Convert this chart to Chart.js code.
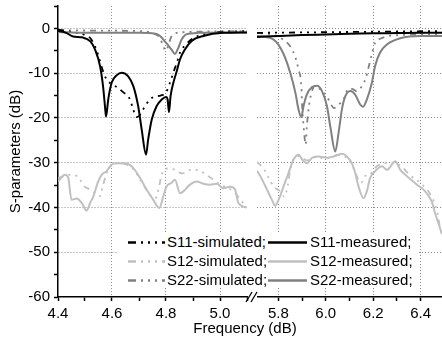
<!DOCTYPE html>
<html>
<head>
<meta charset="utf-8">
<script src="https://cdn.jsdelivr.net/npm/chart.js@4.4.1/dist/chart.umd.min.js"></script>
<style>
  html, body { margin: 0; padding: 0; background: #fff; }
  #wrap { position: relative; width: 442px; height: 347px; overflow: hidden;
          font-family: "Liberation Sans", Arial, sans-serif; color: #000; }
  canvas { position: absolute; top: 0; }
  #leftChart { left: 0; }
  #rightChart { left: 257px; }
  #legend { position: absolute; left: 118px; top: 233px; width: 301px; height: 55px; background: #fff; }
  .lbl { position: absolute; font-size: 15px; line-height: 18px; white-space: nowrap; }
  #xtitle { position: absolute; left: 145px; width: 200px; top: 319px; text-align: center;
            font-size: 15px; line-height: 18px; }
  svg { position: absolute; left: 0; top: 0; overflow: visible; }
</style>
</head>
<body>
<div id="wrap">
  <canvas id="leftChart" width="250" height="347"></canvas>
  <canvas id="rightChart" width="185" height="347"></canvas>
  <div id="legend"></div>
  <svg id="breakMark" width="442" height="347"></svg>
  <div id="xtitle">Frequency (dB)</div>
</div>
<script>
// axis ranges / ticks
const leftRange = [4.4, 5.1];
const rightRange = [5.71, 6.49];
const leftTicks = [4.4, 4.5, 4.6, 4.7, 4.8, 4.9, 5.0, 5.1];
const rightTicks = [5.8, 5.9, 6.0, 6.1, 6.2, 6.3, 6.4];
const dbTicks = [-60, -55, -50, -45, -40, -35, -30, -25, -20, -15, -10, -5, 0, 5];

// [frequency, dB], left part (4.4 - 5.1 GHz)
const s11MeasL = [[4.40,-0.5],[4.43,-1.0],[4.456,-1.8],[4.49,-2.0],[4.52,-2.9],[4.537,-4.7],[4.556,-8.5],[4.567,-13],[4.574,-17.4],[4.578,-19.7],[4.586,-15.9],[4.599,-12.1],[4.617,-10.5],[4.636,-9.9],[4.66,-10.7],[4.679,-12.9],[4.697,-17.4],[4.71,-22.6],[4.726,-28.2],[4.734,-24.8],[4.747,-20.4],[4.765,-17.4],[4.784,-15.9],[4.80,-15.3],[4.806,-15.9],[4.811,-18.7],[4.817,-15.1],[4.827,-12.2],[4.84,-9.5],[4.852,-6.9],[4.87,-4.7],[4.895,-2.8],[4.938,-1.7],[5.012,-1.0],[5.10,-0.9]];
const s11SimL = [[4.40,-0.3],[4.45,-0.8],[4.50,-1.5],[4.52,-2.2],[4.537,-4.0],[4.548,-5.8],[4.567,-9.6],[4.58,-11.4],[4.60,-12.5],[4.62,-13.2],[4.64,-14.2],[4.667,-15.9],[4.678,-18.0],[4.69,-19.8],[4.70,-19.6],[4.715,-18.1],[4.74,-15.9],[4.76,-15.2],[4.78,-15.0],[4.80,-14.3],[4.815,-12.1],[4.827,-9.9],[4.84,-7.7],[4.852,-5.4],[4.877,-3.4],[4.90,-2.2],[4.95,-1.2],[5.00,-0.8],[5.10,-0.6]];
const s12MeasL = [[4.40,-34.2],[4.426,-32.7],[4.438,-33.4],[4.45,-38.3],[4.469,-38],[4.488,-39],[4.506,-40.7],[4.519,-39],[4.531,-37.5],[4.549,-34.2],[4.562,-32.7],[4.58,-31.9],[4.599,-30.4],[4.617,-30.1],[4.654,-30.2],[4.679,-31.2],[4.704,-33.4],[4.728,-36],[4.753,-38.3],[4.775,-40.1],[4.79,-37.5],[4.802,-35.3],[4.821,-34.5],[4.833,-33.8],[4.852,-36.8],[4.864,-36.4],[4.889,-34.9],[4.914,-34.2],[4.938,-34.7],[4.963,-34.9],[4.988,-34.7],[5.012,-35.7],[5.037,-35.4],[5.056,-36],[5.068,-39],[5.10,-40]];
const s12SimL = [[4.40,-33.5],[4.44,-32.7],[4.47,-33],[4.50,-35.4],[4.52,-36],[4.537,-36.8],[4.555,-37.5],[4.565,-35.5],[4.58,-32.3],[4.60,-30.5],[4.62,-30.1],[4.65,-30.3],[4.68,-31.5],[4.70,-33.3],[4.72,-35.3],[4.74,-37.2],[4.76,-38],[4.772,-36],[4.784,-32.7],[4.80,-31.3],[4.83,-31.5],[4.86,-32.4],[4.89,-31.6],[4.92,-31.7],[4.94,-32.3],[4.975,-33.8],[5.00,-34.9],[5.05,-36.4],[5.07,-37.8],[5.10,-40]];
const s22MeasL = [[4.40,-0.8],[4.50,-1.0],[4.60,-1.0],[4.70,-1.0],[4.76,-1.2],[4.778,-1.7],[4.80,-3.2],[4.82,-4.7],[4.833,-5.7],[4.846,-4.3],[4.858,-2.5],[4.876,-1.3],[4.92,-1.0],[5.10,-0.9]];
const s22SimL = [[4.40,-0.4],[4.55,-0.5],[4.70,-0.6],[4.76,-1.3],[4.778,-2.2],[4.79,-4.0],[4.80,-5.0],[4.81,-3.5],[4.82,-1.8],[4.84,-1.0],[4.95,-0.7],[5.10,-0.6]];

// right part (5.7 - 6.5 GHz)
const s11MeasR = [[5.71,-1.9],[5.80,-1.7],[5.90,-1.5],[6.00,-1.35],[6.10,-1.2],[6.20,-1.1],[6.30,-1.05],[6.40,-1.0],[6.49,-1.0]];
const s11SimR = [[5.71,-1.0],[5.90,-0.9],[6.10,-0.8],[6.30,-0.7],[6.49,-0.6]];
const s12MeasR = [[5.71,-31.8],[5.724,-33],[5.752,-36],[5.773,-38.3],[5.787,-39.6],[5.801,-38.3],[5.822,-35.3],[5.843,-32.3],[5.864,-29.3],[5.886,-28.2],[5.90,-29.3],[5.921,-30.1],[5.942,-28.9],[5.97,-28.6],[6.005,-28.9],[6.033,-28.6],[6.068,-28],[6.089,-28.6],[6.11,-30.1],[6.124,-32.3],[6.138,-35.3],[6.159,-37.9],[6.173,-36.4],[6.187,-33.4],[6.208,-31.9],[6.237,-30.8],[6.258,-31.6],[6.293,-29.7],[6.314,-31.6],[6.342,-33],[6.384,-34.9],[6.419,-36.4],[6.447,-38.7],[6.461,-41.3],[6.475,-43.5],[6.49,-46]];
const s12SimR = [[5.71,-29.8],[5.74,-31.5],[5.76,-33.5],[5.78,-35.3],[5.81,-36.5],[5.825,-37.6],[5.84,-35],[5.85,-31.6],[5.864,-29.3],[5.89,-28.5],[5.92,-29.5],[5.95,-28.8],[6.00,-29],[6.05,-28.3],[6.09,-29],[6.115,-31],[6.137,-33.8],[6.15,-34.5],[6.165,-33],[6.187,-32.6],[6.215,-30.8],[6.28,-30],[6.31,-30.5],[6.36,-33],[6.40,-34.6],[6.44,-37],[6.47,-41],[6.48,-44],[6.49,-46.5]];
const s22MeasR = [[5.71,-1.7],[5.78,-2.5],[5.82,-5.5],[5.85,-9.9],[5.872,-14.4],[5.885,-18.1],[5.897,-19.8],[5.906,-17.4],[5.92,-14.8],[5.942,-13.1],[5.963,-12.8],[5.984,-14.0],[6.005,-17.4],[6.019,-21.9],[6.04,-27.5],[6.054,-23.3],[6.068,-18.1],[6.082,-15.2],[6.103,-14.0],[6.124,-14.8],[6.145,-17.0],[6.157,-17.5],[6.173,-15.9],[6.194,-12.2],[6.208,-8.4],[6.229,-5.4],[6.258,-3.6],[6.314,-2.2],[6.40,-1.7],[6.49,-1.7]];
const s22SimR = [[5.71,-1.0],[5.78,-1.5],[5.82,-2.5],[5.85,-4.0],[5.872,-6.5],[5.885,-9.2],[5.897,-13],[5.90,-17],[5.905,-21],[5.91,-24],[5.915,-26],[5.92,-22],[5.93,-17],[5.945,-13.5],[5.956,-12.8],[5.975,-13.5],[6.005,-15.2],[6.02,-16.8],[6.035,-17.8],[6.055,-17],[6.075,-15.9],[6.095,-13.5],[6.11,-13.5],[6.13,-14],[6.152,-12.9],[6.168,-11.2],[6.18,-8.8],[6.194,-5.8],[6.208,-3.2],[6.23,-2.3],[6.28,-1.6],[6.49,-1.3]];

const colS11 = "#000000";
const colS12 = "#c0c0c0";
const colS22 = "#808080";
const simDash = [6, 5, 2, 5, 2, 5, 2, 5];
const gridCol = "#8c8c8c";
const clear = "rgba(0,0,0,0)";
const font = { family: "'Liberation Sans', Arial, sans-serif", size: 15 };

function line(points, color, sim) {
  return {
    data: points.map(p => ({ x: p[0], y: p[1] })),
    borderColor: color,
    borderWidth: sim ? 1.8 : 2,
    borderDash: sim ? simDash : [],
    pointRadius: 0,
    cubicInterpolationMode: "monotone",
    fill: false
  };
}

const isMajorX = v => Math.round(v * 10) % 2 === 0;
const isMajorY = v => v % 10 === 0;

function xScale(range, ticks) {
  return {
    type: "linear",
    min: range[0],
    max: range[1],
    afterBuildTicks: s => { s.ticks = ticks.map(v => ({ value: v })); },
    afterFit: s => { s.height = 50; s.paddingLeft = 0; s.paddingRight = 0; },
    grid: {
      color: c => (c.tick && isMajorX(c.tick.value) && c.tick.value !== range[0]) ? gridCol : clear,
      lineWidth: 1,
      tickColor: "#000",
      tickLength: 4,
      tickWidth: 1.5
    },
    border: { color: "#000", width: 1.5, dash: [1, 2] },
    ticks: {
      color: "#000", font: font, padding: 4, maxRotation: 0, autoSkip: false,
      callback: v => isMajorX(v) ? v.toFixed(1) : ""
    }
  };
}

function yScale(withAxis) {
  return {
    min: -60,
    max: 5,
    afterBuildTicks: s => { s.ticks = dbTicks.map(v => ({ value: v })); },
    afterFit: s => { s.width = withAxis ? 58 : 0; s.paddingTop = 0; s.paddingBottom = 0; },
    grid: {
      color: c => (c.tick && isMajorY(c.tick.value) && c.tick.value > -60) ? gridCol : clear,
      lineWidth: 1,
      drawTicks: withAxis,
      tickColor: "#000",
      tickLength: 4,
      tickWidth: 1.5
    },
    border: { display: withAxis, color: "#000", width: 1.5, dash: [1, 2] },
    ticks: {
      display: withAxis, color: "#000", font: font, padding: 4, autoSkip: false,
      callback: v => isMajorY(v) ? String(v) : ""
    },
    title: {
      display: withAxis, text: "S-parameters (dB)", color: "#000", font: font,
      padding: { top: 7, bottom: 0 }
    }
  };
}

function panel(id, sets, range, ticks, withAxis, pad) {
  return new Chart(document.getElementById(id), {
    type: "line",
    data: {
      datasets: [
        line(sets[0], colS11, false),
        line(sets[1], colS22, false),
        line(sets[2], colS11, true),
        line(sets[3], colS22, true),
        line(sets[4], colS12, false),
        line(sets[5], colS12, true)
      ]
    },
    options: {
      responsive: false,
      animation: false,
      layout: { padding: pad },
      plugins: { legend: { display: false }, tooltip: { enabled: false } },
      scales: { x: xScale(range, ticks), y: yScale(withAxis) }
    }
  });
}

panel("leftChart", [s11MeasL, s22MeasL, s11SimL, s22SimL, s12MeasL, s12SimL],
  leftRange, leftTicks, true, { top: 6, right: 3, left: 0, bottom: 0 });
panel("rightChart", [s11MeasR, s22MeasR, s11SimR, s22SimR, s12MeasR, s12SimR],
  rightRange, rightTicks, false, { top: 6, right: 0, left: 0, bottom: 0 });

// legend (two columns: simulated / measured)
const legendRows = [["S11", colS11], ["S12", colS12], ["S22", colS22]];
const legend = document.getElementById("legend");
const ns = "http://www.w3.org/2000/svg";
const lsvg = document.createElementNS(ns, "svg");
lsvg.setAttribute("width", "301");
lsvg.setAttribute("height", "55");
legend.appendChild(lsvg);
legendRows.forEach((r, i) => {
  const cy = 9.5 + i * 19;
  const sim = document.createElementNS(ns, "line");
  sim.setAttribute("x1", 10); sim.setAttribute("x2", 47);
  sim.setAttribute("y1", cy); sim.setAttribute("y2", cy);
  sim.setAttribute("stroke", r[1]); sim.setAttribute("stroke-width", 2.5);
  sim.setAttribute("stroke-dasharray", "8 5 2 5 2 5 2 5");
  lsvg.appendChild(sim);
  const meas = document.createElementNS(ns, "line");
  meas.setAttribute("x1", 150); meas.setAttribute("x2", 189);
  meas.setAttribute("y1", cy); meas.setAttribute("y2", cy);
  meas.setAttribute("stroke", r[1]); meas.setAttribute("stroke-width", 2.5);
  lsvg.appendChild(meas);

  const t1 = document.createElement("span");
  t1.className = "lbl"; t1.style.left = "49px"; t1.style.top = (i * 19) + "px";
  t1.textContent = r[0] + "-simulated;";
  legend.appendChild(t1);
  const t2 = document.createElement("span");
  t2.className = "lbl"; t2.style.left = "192px"; t2.style.top = (i * 19) + "px";
  t2.textContent = r[0] + "-measured;";
  legend.appendChild(t2);
});

// axis break marks "//"
const bsvg = document.getElementById("breakMark");
[[246, 252], [251, 257]].forEach(b => {
  const l = document.createElementNS(ns, "line");
  l.setAttribute("x1", b[0]); l.setAttribute("y1", 302);
  l.setAttribute("x2", b[1]); l.setAttribute("y2", 292);
  l.setAttribute("stroke", "#000"); l.setAttribute("stroke-width", 1.3);
  bsvg.appendChild(l);
});
</script>
</body>
</html>
